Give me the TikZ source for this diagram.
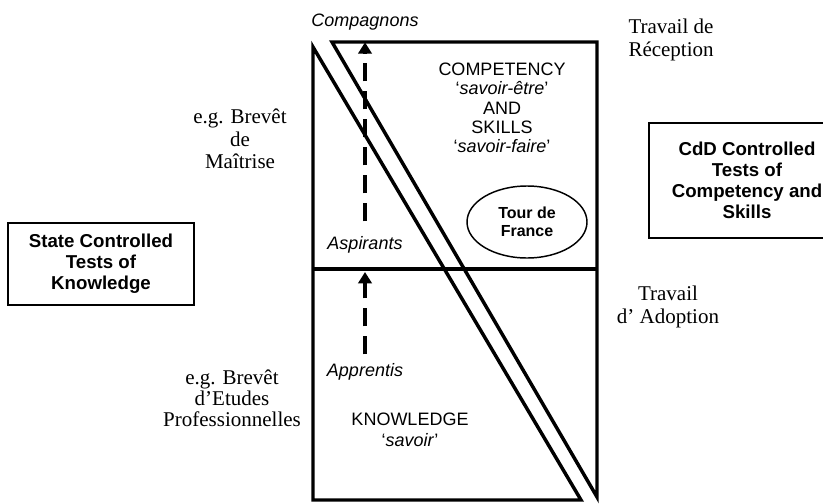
\documentclass[tikz,border=0pt]{standalone}
\usepackage{fontspec}
\setmainfont{Liberation Serif}
\setsansfont{Liberation Sans}
\usetikzlibrary{arrows.meta,shapes.geometric}

\tikzset{every picture/.style={line width=0.75pt}}
\tikzset{
  frame/.style={line width=2.6pt},
  testbox/.style={draw, line width=1.5pt, align=center, font=\sffamily\bfseries\fontsize{14}{15.6}\selectfont},
  serifnote/.style={inner sep=0.75pt, font=\fontsize{15.75}{16.8}\selectfont},
  areatext/.style={align=center, inner sep=0.75pt, font=\sffamily\fontsize{13.5}{14.4}\selectfont},
  grade/.style={inner sep=0.75pt, font=\sffamily\itshape\fontsize{13.5}{15}\selectfont},
  promote/.style={line width=2.6pt, dash pattern=on 13.5pt off 7.5pt, -{Triangle[width=10pt,length=8.5pt]}},
}

\begin{document}
\begin{tikzpicture}[x=0.75pt,y=0.75pt,yscale=-1,xscale=1]
	\useasboundingbox (0,0) rectangle (823,503);

	%Shape: Triangle [knowledge side]
	\draw [frame] (313,47) -- (313,500) -- (581,500) -- cycle ;
	%Shape: Triangle [competency side]
	\draw [frame] (332,42) -- (597,42) -- (597,497) -- cycle ;
	%Straight Lines [level divide]
	\draw [frame] (313,269) -- (597,269) ;

	% Text Node
	\draw (365,22) node [grade] (compagnons) {Compagnons};
	% Text Node
	\draw (365,244.5) node [grade] (aspirants) {Aspirants};
	% Text Node
	\draw (365,372) node [grade] (apprentis) {Apprentis};
	\coordinate (divide) at (365,272);

	%Dashed Arrows
	\draw [promote, shorten <=9.9pt, shorten >=8pt] (aspirants.north) -- (compagnons.south) ;
	\draw [promote, shorten <=5.8pt] (apprentis.north) -- (divide) ;

	% Text Node
	\draw (502,108) node [areatext] (competency) {COMPETENCY\\`\textit{savoir-être}'\\AND\\SKILLS\\`\textit{savoir-faire}'};
	% Text Node
	\draw (410,430) node [areatext, font=\sffamily\fontsize{13.5}{15.5}\selectfont] (knowledge) {KNOWLEDGE\\`\textit{savoir}'};
	%Shape: Ellipse
	\draw (527,222) node [ellipse, draw, line width=1.1pt, minimum width=90pt, minimum height=54pt, align=center, font=\sffamily\bfseries\fontsize{12}{13.5}\selectfont] (tour) {Tour de\\France};

	% Text Node
	\draw (240,139) node [serifnote, align=center] (maitrise) {e.g. Brevêt\\de\\Maîtrise};
	% Text Node
	\draw (232,398) node [serifnote, align=center, font=\fontsize{15.75}{15.9}\selectfont] (etudes) {e.g. Brevêt\\d'Etudes\\Professionnelles};
	% Text Node
	\draw (627,40) node [serifnote, align=left, anchor=west] (reception) {Travail de\\Réception};
	% Text Node
	\draw (668,307) node [serifnote, align=center] (adoption) {Travail\\d' Adoption};

	%Shape: Rectangle [state tests]
	\draw (101,264) node [testbox, minimum width=139.5pt, minimum height=61.5pt] (state) {State Controlled\\Tests of\\Knowledge};
	%Shape: Rectangle [CdD tests]
	\draw (747,180.5) node [testbox, minimum width=147pt, minimum height=86.25pt] (cdd) {CdD Controlled\\Tests of\\Competency and\\Skills};
\end{tikzpicture}
\end{document}
